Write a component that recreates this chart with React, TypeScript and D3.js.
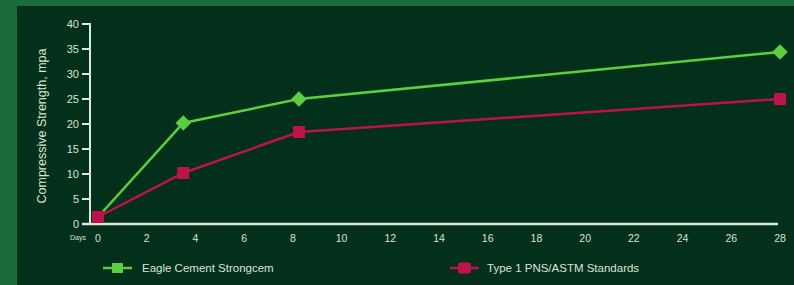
import React from "react";
import * as d3 from "d3";

const days = [0, 3.5, 8.25, 28];
const eagleValues = [1.4, 20.2, 25, 34.4];
const type1Values = [1.4, 10.2, 18.4, 25];
const yTicks = [0, 5, 10, 15, 20, 25, 30, 35, 40];
const xTicks = [0, 2, 4, 6, 8, 10, 12, 14, 16, 18, 20, 22, 24, 26, 28];
const seriesNames = ["Eagle Cement Strongcem", "Type 1 PNS/ASTM Standards"];

const width = 794;
const height = 285;
const font = "'Liberation Sans', Arial, sans-serif";
const axisColor = "#dcebdc";
const textColor = "#d6e4d6";
const green = "#5ccf3e";
const red = "#c0124a";

const App = () => {
  const xScale = d3.scaleLinear().domain([0, 28]).range([98, 780]);
  const yScale = d3.scaleLinear().domain([0, 40]).range([224, 24]);

  const line = d3
    .line<[number, number]>()
    .x((d) => xScale(d[0]))
    .y((d) => yScale(d[1]));

  const eagle: [number, number][] = days.map((d, i) => [d, eagleValues[i]]);
  const type1: [number, number][] = days.map((d, i) => [d, type1Values[i]]);

  return (
    <svg
      width={width}
      height={height}
      style={{ position: "absolute", left: 0, top: 0, display: "block" }}
      fontFamily={font}
    >
      <rect x={0} y={0} width={width} height={height} fill="#1d6a3b" />
      <rect x={17} y={6} width={width - 17} height={height - 6} fill="#03301a" />

      {/* y axis */}
      <line
        x1={90}
        x2={90}
        y1={yScale(40) - 1}
        y2={yScale(0)}
        stroke={axisColor}
        strokeWidth={2}
      />
      {yTicks.map((t) => (
        <g key={t} transform={`translate(0,${yScale(t)})`}>
          <line x1={82} x2={90} stroke={axisColor} strokeWidth={2} />
          <text
            x={79}
            dy="0.35em"
            textAnchor="end"
            fontSize={11}
            fill={textColor}
          >
            {t}
          </text>
        </g>
      ))}
      <text
        transform={`translate(46,126) rotate(-90)`}
        textAnchor="middle"
        fontSize={12.5}
        fill={textColor}
      >
        Compressive Strength, mpa
      </text>

      {/* x axis */}
      <line
        x1={82}
        x2={778}
        y1={yScale(0)}
        y2={yScale(0)}
        stroke={axisColor}
        strokeWidth={2.5}
      />
      {xTicks.map((t) => (
        <text
          key={t}
          x={xScale(t)}
          y={242}
          textAnchor="middle"
          fontSize={10.5}
          fill={textColor}
        >
          {t}
        </text>
      ))}
      <text x={78} y={240} textAnchor="middle" fontSize={7} fill={textColor}>
        Days
      </text>

      {/* lines */}
      <path d={line(type1) || ""} fill="none" stroke={red} strokeWidth={2.5} />
      <path d={line(eagle) || ""} fill="none" stroke={green} strokeWidth={2.5} />
      {eagle.map((d, i) =>
        i === 0 ? null : (
          <rect
            key={i}
            x={-5.5}
            y={-5.5}
            width={11}
            height={11}
            fill={green}
            transform={`translate(${xScale(d[0])},${yScale(d[1])}) rotate(45)`}
          />
        )
      )}
      {type1.map((d, i) => (
        <rect
          key={i}
          x={xScale(d[0]) - 6}
          y={yScale(d[1]) - 6}
          width={12}
          height={12}
          fill={red}
        />
      ))}

      {/* legend */}
      <g transform="translate(103,268)">
        <line x1={0} x2={29} stroke={green} strokeWidth={2.5} />
        <rect x={9} y={-5} width={11} height={10} fill={green} />
        <text x={39} dy="0.35em" fontSize={11.5} fill={textColor}>
          {seriesNames[0]}
        </text>
      </g>
      <g transform="translate(450,268)">
        <line x1={0} x2={29} stroke={red} strokeWidth={2.5} />
        <rect x={8} y={-5.5} width={13} height={11} rx={2} fill={red} />
        <text x={37} dy="0.35em" fontSize={11.5} fill={textColor}>
          {seriesNames[1]}
        </text>
      </g>
    </svg>
  );
};

export default App;
